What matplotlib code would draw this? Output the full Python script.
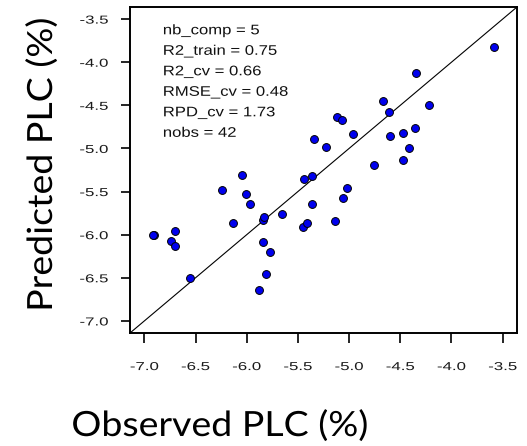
import matplotlib
matplotlib.use("Agg")
import matplotlib.pyplot as plt
from matplotlib.patheffects import AbstractPathEffect
from matplotlib.transforms import Affine2D

observed = [-3.582, -4.347, -4.672, -4.614, -4.220, -5.116, -5.067, -5.340, -5.226, -4.965,
            -4.604, -4.474, -4.360, -4.418, -4.752, -4.472, -6.049, -6.239, -6.010, -5.965,
            -6.131, -5.841, -5.653, -5.441, -5.360, -5.366, -5.024, -5.057, -5.135, -5.448,
            -5.409, -5.844, -5.776, -5.812, -5.880, -6.903, -6.737, -6.703, -6.698, -6.551,
            -6.920, -5.836]
predicted = [-3.828, -4.122, -4.450, -4.578, -4.493, -4.640, -4.671, -4.895, -4.988, -4.833,
             -4.857, -4.818, -4.760, -4.992, -5.195, -5.130, -5.309, -5.483, -5.533, -5.645,
             -5.869, -5.831, -5.758, -5.355, -5.324, -5.645, -5.456, -5.579, -5.843, -5.909,
             -5.869, -6.090, -6.206, -6.454, -6.640, -6.005, -6.075, -6.129, -5.955, -6.500,
             -6.005, -5.797]

stats_lines = ["nb_comp = 5", "R2_train = 0.75", "R2_cv = 0.66",
               "RMSE_cv = 0.48", "RPD_cv = 1.73", "nobs = 42"]
ticks = [-7.0, -6.5, -6.0, -5.5, -5.0, -4.5, -4.0, -3.5]
tick_labels = ["-7.0", "-6.5", "-6.0", "-5.5", "-5.0", "-4.5", "-4.0", "-3.5"]
lim = (-7.0, -3.5)


class HStretch(AbstractPathEffect):
    """Stretch text glyphs along the text direction about an anchor fraction."""
    def __init__(self, sx, anchor=0.0):
        super().__init__()
        self.sx = sx
        self.anchor = anchor

    def draw_path(self, renderer, gc, tpath, affine, rgbFace=None):
        ext = tpath.get_extents()
        x0 = ext.x0 + self.anchor * (ext.x1 - ext.x0)
        t = Affine2D().translate(-x0, 0).scale(self.sx, 1).translate(x0, 0) + affine
        renderer.draw_path(gc, tpath, t, rgbFace)


W, H = 527, 446
fig = plt.figure(figsize=(W/100, H/100), dpi=100)
ax = fig.add_axes([130/W, 1-333/H, 387/W, 326/H])

pad = 0.04 * (lim[1] - lim[0])
lo, hi = lim[0] - pad, lim[1] + pad
ax.set_xlim(lo, hi)
ax.set_ylim(lo, hi)
ax.plot([lo, hi], [lo, hi], color="black", lw=0.8, zorder=1)
ax.scatter(observed, predicted, s=32, c="#0000ee", edgecolors="black",
           linewidths=0.7, zorder=3)

for sp in ax.spines.values():
    sp.set_linewidth(1.4)

tick_font = dict(family=["Liberation Sans", "DejaVu Sans"], size=8.3, color="#1a1a1a")
ax.set_xticks(ticks)
ax.set_xticklabels(tick_labels, **tick_font)
ax.set_yticks(ticks)
ax.set_yticklabels(tick_labels, **tick_font)
ax.tick_params(axis="x", length=7, width=1.2, pad=13.2)
ax.tick_params(axis="y", length=6.7, width=1.2, pad=9)
for lab in ax.get_xticklabels():
    lab.set_path_effects([HStretch(1.46, 0.5)])
for lab in ax.get_yticklabels():
    lab.set_path_effects([HStretch(1.46, 1.0)])

for i, line in enumerate(stats_lines):
    t = ax.text(0.0853, 0.9163 - i*0.0629, line, transform=ax.transAxes,
                ha="left", va="baseline", family=["Liberation Sans", "DejaVu Sans"],
                size=10, color="#111111")
    t.set_path_effects([HStretch(1.2, 0.0)])

label_font = dict(family=["Lato", "DejaVu Sans"], size=25, color="black")
xl = fig.text(220/W, 1-436/H, "Observed PLC (%)", ha="center", va="baseline", **label_font)
xl.set_path_effects([HStretch(1.08, 0.5)])
yl = fig.text(52/W, 1-164.5/H, "Predicted PLC (%)", ha="center", va="baseline",
              rotation=90, rotation_mode="anchor", **label_font)
yl.set_path_effects([HStretch(1.08, 0.5)])

fig.savefig("out.png", dpi=100)
